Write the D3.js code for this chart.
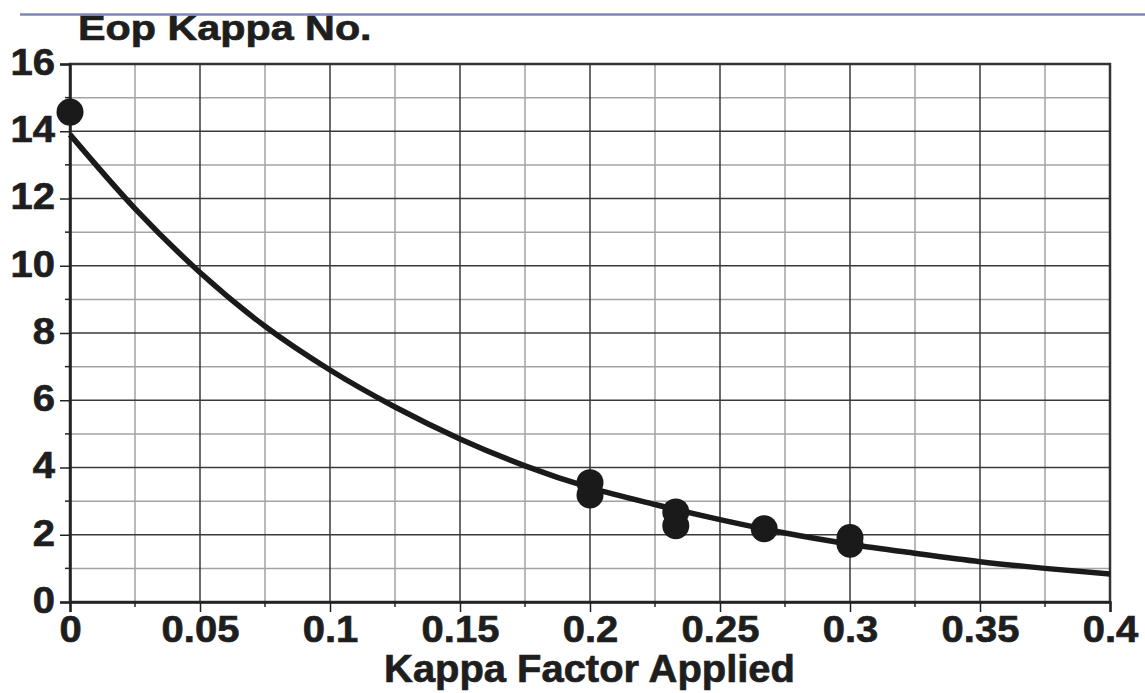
<!DOCTYPE html>
<html>
<head>
<meta charset="utf-8">
<script src="https://cdn.jsdelivr.net/npm/d3@7"></script>
<style>
  html, body { margin: 0; padding: 0; background: #fff; }
  svg { display: block; font-family: "Liberation Sans", Arial, Helvetica, sans-serif; font-weight: bold; }
  text { stroke: #1e1e1e; stroke-width: 0.7px; }
</style>
</head>
<body>
<svg id="chart" width="1145" height="693"></svg>
<script>
// Datos
const kappaFactor = [0, 0.2, 0.2, 0.233, 0.233, 0.267, 0.3, 0.3]
const eopKappa = [14.57, 3.55, 3.18, 2.68, 2.27, 2.18, 1.92, 1.72]

// Curva ajustada (valores leídos cada 0.025)
const curveX = [0, 0.025, 0.05, 0.075, 0.1, 0.125, 0.15, 0.175, 0.2, 0.225, 0.25, 0.275, 0.3, 0.325, 0.35, 0.375, 0.4]
const curveY = [13.9, 11.7, 9.8, 8.2, 6.9, 5.8, 4.85, 4.05, 3.4, 2.9, 2.45, 2.05, 1.72, 1.45, 1.2, 1.0, 0.83]

const xTicks = [0, 0.05, 0.1, 0.15, 0.2, 0.25, 0.3, 0.35, 0.4]
const xMinor = [0.025, 0.075, 0.125, 0.175, 0.225, 0.275, 0.325, 0.375]
const yTicks = [0, 2, 4, 6, 8, 10, 12, 14, 16]
const yMinor = [1, 3, 5, 7, 9, 11, 13, 15]

const svg = d3.select('#chart')
const margin = { left: 70, right: 35, top: 64, bottom: 91 }
const width = 1145
const height = 693
const sx = 1.08 // estiramiento horizontal del texto

const x = d3.scaleLinear().domain([0, 0.4]).range([margin.left, width - margin.right])
const y = d3.scaleLinear().domain([0, 16]).range([height - margin.bottom, margin.top])

// Línea decorativa superior
svg.append('line')
    .attr('x1', 20).attr('x2', width)
    .attr('y1', 14.5).attr('y2', 14.5)
    .attr('stroke', '#7f86b8')
    .attr('stroke-width', 2.5)

// Rejilla menor
const grid = svg.append('g')
grid.selectAll('line.vminor').data(xMinor).enter().append('line')
    .attr('x1', d => x(d)).attr('x2', d => x(d))
    .attr('y1', y(0)).attr('y2', y(16))
    .attr('stroke', '#a3a3a3').attr('stroke-width', 1.5)
grid.selectAll('line.hminor').data(yMinor).enter().append('line')
    .attr('y1', d => y(d)).attr('y2', d => y(d))
    .attr('x1', x(0)).attr('x2', x(0.4))
    .attr('stroke', '#a3a3a3').attr('stroke-width', 1.5)

// Rejilla mayor
grid.selectAll('line.vmajor').data(xTicks).enter().append('line')
    .attr('x1', d => x(d)).attr('x2', d => x(d))
    .attr('y1', y(0)).attr('y2', y(16))
    .attr('stroke', '#2b2b2b').attr('stroke-width', 1.4)
grid.selectAll('line.hmajor').data(yTicks).enter().append('line')
    .attr('y1', d => y(d)).attr('y2', d => y(d))
    .attr('x1', x(0)).attr('x2', x(0.4))
    .attr('stroke', '#3a3a3a').attr('stroke-width', 1.6)

// Marco
svg.append('rect')
    .attr('x', x(0)).attr('y', y(16))
    .attr('width', x(0.4) - x(0)).attr('height', y(0) - y(16))
    .attr('fill', 'none').attr('stroke', '#333').attr('stroke-width', 2.5)

// Ejes
const xAxis = svg.append('g')
    .attr('transform', `translate(0, ${y(0)})`)
    .call(d3.axisBottom(x).tickValues(xTicks).tickSize(10).tickPadding(3)
        .tickFormat(d => d3.format('')(+d.toFixed(3))))
xAxis.append('g').selectAll('line').data(xMinor).enter().append('line')
    .attr('x1', d => x(d)).attr('x2', d => x(d))
    .attr('y1', 0).attr('y2', 5)
    .attr('stroke', '#222').attr('stroke-width', 1.5)

const yAxis = svg.append('g')
    .attr('transform', `translate(${x(0)}, 0)`)
    .call(d3.axisLeft(y).tickValues(yTicks).tickSize(10).tickPadding(5))
yAxis.append('g').selectAll('line').data(yMinor).enter().append('line')
    .attr('y1', d => y(d)).attr('y2', d => y(d))
    .attr('x1', -5).attr('x2', 0)
    .attr('stroke', '#222').attr('stroke-width', 1.5)

svg.selectAll('.domain').attr('stroke', '#222').attr('stroke-width', 2.5)
svg.selectAll('.tick line').attr('stroke', '#222').attr('stroke-width', 1.5)
svg.selectAll('.tick text')
    .attr('fill', '#1e1e1e')
    .style('font-family', '"Liberation Sans", Arial, sans-serif')
    .style('font-weight', 'bold')
    .style('font-size', '37px')
xAxis.selectAll('.tick text').attr('transform', `scale(${sx},1)`).attr('dy', '0.74em')
yAxis.selectAll('.tick text').attr('transform', `scale(${sx},1)`).attr('dy', '0.28em').attr('x', -15 / sx)

// Curva
const line = d3.line()
    .x((d, i) => x(curveX[i]))
    .y(d => y(d))
    .curve(d3.curveMonotoneX)
svg.append('path')
    .datum(curveY)
    .attr('d', line)
    .attr('fill', 'none')
    .attr('stroke', '#1a1a1a')
    .attr('stroke-width', 5.5)

// Puntos
svg.selectAll('circle.dot')
    .data(kappaFactor)
    .enter().append('circle')
    .attr('class', 'dot')
    .attr('cx', d => x(d))
    .attr('cy', (d, i) => y(eopKappa[i]))
    .attr('r', 13.5)
    .attr('fill', '#1a1a1a')

// Títulos
svg.append('text')
    .attr('transform', 'translate(78, 40) scale(1.18,1)')
    .attr('fill', '#1e1e1e')
    .style('font-size', '35px')
    .text('Eop Kappa No.')

svg.append('text')
    .attr('transform', `translate(${(382 + 797) / 2}, 682) scale(1.05,1)`)
    .attr('text-anchor', 'middle')
    .attr('fill', '#1e1e1e')
    .style('font-size', '38px')
    .text('Kappa Factor Applied')
</script>
</body>
</html>
